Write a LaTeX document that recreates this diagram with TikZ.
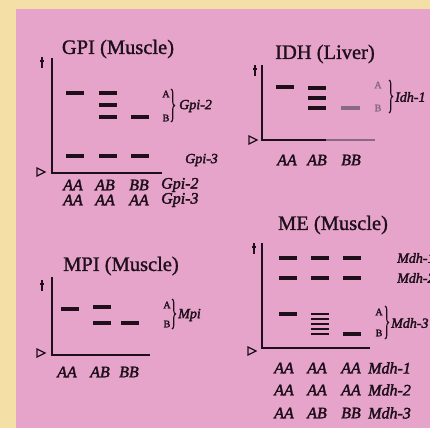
\documentclass[tikz,border=0pt]{standalone}
\usepackage{fontspec}
\newfontfamily\tfont{Liberation Serif}[FakeBold=1.3]
\newfontfamily\gfont{Liberation Serif}[FakeBold=2.2]
\usetikzlibrary{decorations.pathreplacing}
\definecolor{bgyellow}{HTML}{F4E0A6}
\definecolor{bgpink}{HTML}{E6A4CB}
\definecolor{ink}{HTML}{1E0F1A}
\definecolor{faded}{HTML}{8A6A82}
\begin{document}
\begin{tikzpicture}[x=1pt,y=-1pt,
 title/.style={font=\tfont\fontsize{20.5}{24}\selectfont, text=ink, inner sep=0},
 geno/.style={font=\gfont\fontsize{16}{19}\selectfont\itshape, text=ink, inner sep=0},
 locus/.style={font=\gfont\fontsize{14}{17}\selectfont\itshape, text=ink, inner sep=0, anchor=west},
 allele/.style={font=\gfont\fontsize{10}{12}\selectfont, text=ink, inner sep=0},
 band/.style={line width=3.2, draw=ink},
 thinband/.style={line width=2.1, draw=ink},
 axisline/.style={line width=2.4, draw=ink},
 marker/.style={line width=1.2, draw=ink},
 brace/.style={decorate, decoration={brace, amplitude=3.5pt}, line width=1.1, draw=ink},
 ]
\useasboundingbox (0,0) rectangle (430,428);
\clip (0,0) rectangle (430,428);
\fill[bgyellow] (0,0) rectangle (430,428);
\fill[bgpink] (16,9) rectangle (430,428);

% ---------------- GPI (Muscle)
\node[title] (gpiT) at (118,49) {GPI (Muscle)};
\coordinate (gpiTop) at (52,58);
\coordinate (gpiO) at (52,173);
\coordinate (gpiEnd) at (162,173);
\draw[axisline] (gpiTop) -- (gpiO) -- (gpiEnd);
\draw[marker] (42,57) -- (42,68) (40,61) -- (44,61);
\draw[marker] (37,168) -- (45,172) -- (37,176) -- cycle;
\foreach \x/\y in {75/93, 108/93, 108/105, 108/117, 140/117, 75/156, 108/156, 140/156}
  \draw[band] (\x-9,\y) -- (\x+9,\y);
\node[allele] (gpiA) at (166,94) {A};
\node[allele] (gpiB) at (166,118) {B};
\draw[brace] (171,89) -- (171,122);
\node[locus] (gpiL2) at (179,106) {Gpi-2};
\node[locus] (gpiL3) at (185,160) {Gpi-3};
\node[geno] (gpi11) at (73,185) {AA};
\node[geno] (gpi12) at (105,185) {AB};
\node[geno] (gpi13) at (139,185) {BB};
\node[geno, anchor=west] (gpi14) at (161,185) {Gpi-2};
\node[geno] (gpi21) at (73,200) {AA};
\node[geno] (gpi22) at (105,200) {AA};
\node[geno] (gpi23) at (139,200) {AA};
\node[geno, anchor=west] (gpi24) at (161,200) {Gpi-3};

% ---------------- IDH (Liver)
\node[title] (idhT) at (325,54) {IDH (Liver)};
\coordinate (idhTop) at (262,65);
\coordinate (idhO) at (262,140);
\coordinate (idhMid) at (326,140);
\coordinate (idhEnd) at (375,140);
\draw[axisline] (idhTop) -- (idhO) -- (idhMid);
\draw[axisline, draw=faded] (idhMid) -- (idhEnd);
\draw[marker] (255,65) -- (255,76) (253,69) -- (257,69);
\draw[marker] (249,136) -- (257,140) -- (249,144) -- cycle;
\foreach \x/\y in {285/87, 317/88, 317/98, 317/108}
  \draw[band] (\x-9,\y) -- (\x+9,\y);
\draw[band, draw=faded] (341,108) -- (360,108);
\node[allele, text=faded] (idhA) at (378,85) {A};
\node[allele, text=faded] (idhB) at (378,108) {B};
\draw[brace] (389,80) -- (389,113);
\node[locus] (idhL) at (395,97) {Idh-1};
\node[geno] (idh1) at (287,160) {AA};
\node[geno] (idh2) at (317,160) {AB};
\node[geno] (idh3) at (351,160) {BB};

% ---------------- MPI (Muscle)
\node[title] (mpiT) at (121,266) {MPI (Muscle)};
\coordinate (mpiTop) at (52,277);
\coordinate (mpiO) at (52,355);
\coordinate (mpiEnd) at (150,355);
\draw[axisline] (mpiTop) -- (mpiO) -- (mpiEnd);
\draw[marker] (42,280) -- (42,291) (40,284) -- (44,284);
\draw[marker] (37,349) -- (45,353) -- (37,357) -- cycle;
\foreach \x/\y in {70/309, 102/307, 102/323, 130/323}
  \draw[band] (\x-9,\y) -- (\x+9,\y);
\node[allele] (mpiA) at (167,305) {A};
\node[allele] (mpiB) at (167,324) {B};
\draw[brace] (172,299) -- (172,329);
\node[locus] (mpiL) at (178,315) {Mpi};
\node[geno] (mpi1) at (67,372) {AA};
\node[geno] (mpi2) at (100,372) {AB};
\node[geno] (mpi3) at (129,372) {BB};

% ---------------- ME (Muscle)
\node[title] (meT) at (333,225) {ME (Muscle)};
\coordinate (meTop) at (262,243);
\coordinate (meO) at (262,348);
\coordinate (meEnd) at (370,348);
\draw[axisline] (meTop) -- (meO) -- (meEnd);
\draw[marker] (254,243) -- (254,254) (252,247) -- (256,247);
\draw[marker] (248,347) -- (256,351) -- (248,355) -- cycle;
\foreach \x/\y in {288/258, 320/258, 352/258, 288/278, 320/278, 352/278,
                   288/314, 352/334}
  \draw[band] (\x-9,\y) -- (\x+9,\y);
\foreach \y in {314,319,324,329,334}
  \draw[thinband] (311,\y) -- (329,\y);
\node[allele] (meA) at (379,312) {A};
\node[allele] (meB) at (379,333) {B};
\draw[brace] (385,306) -- (385,339);
\node[locus] (meL3) at (391,323) {Mdh-3};
\node[locus] (meL1) at (397,258) {Mdh-1};
\node[locus] (meL2) at (397,278) {Mdh-2};
\node[geno] (me11) at (284,368) {AA};
\node[geno] (me12) at (317,368) {AA};
\node[geno] (me13) at (351,368) {AA};
\node[geno, anchor=west] (me14) at (368,368) {Mdh-1};
\node[geno] (me21) at (284,390) {AA};
\node[geno] (me22) at (317,390) {AA};
\node[geno] (me23) at (351,390) {AA};
\node[geno, anchor=west] (me24) at (368,390) {Mdh-2};
\node[geno] (me31) at (284,413) {AA};
\node[geno] (me32) at (317,413) {AB};
\node[geno] (me33) at (351,413) {BB};
\node[geno, anchor=west] (me34) at (368,413) {Mdh-3};
\end{tikzpicture}
\end{document}
